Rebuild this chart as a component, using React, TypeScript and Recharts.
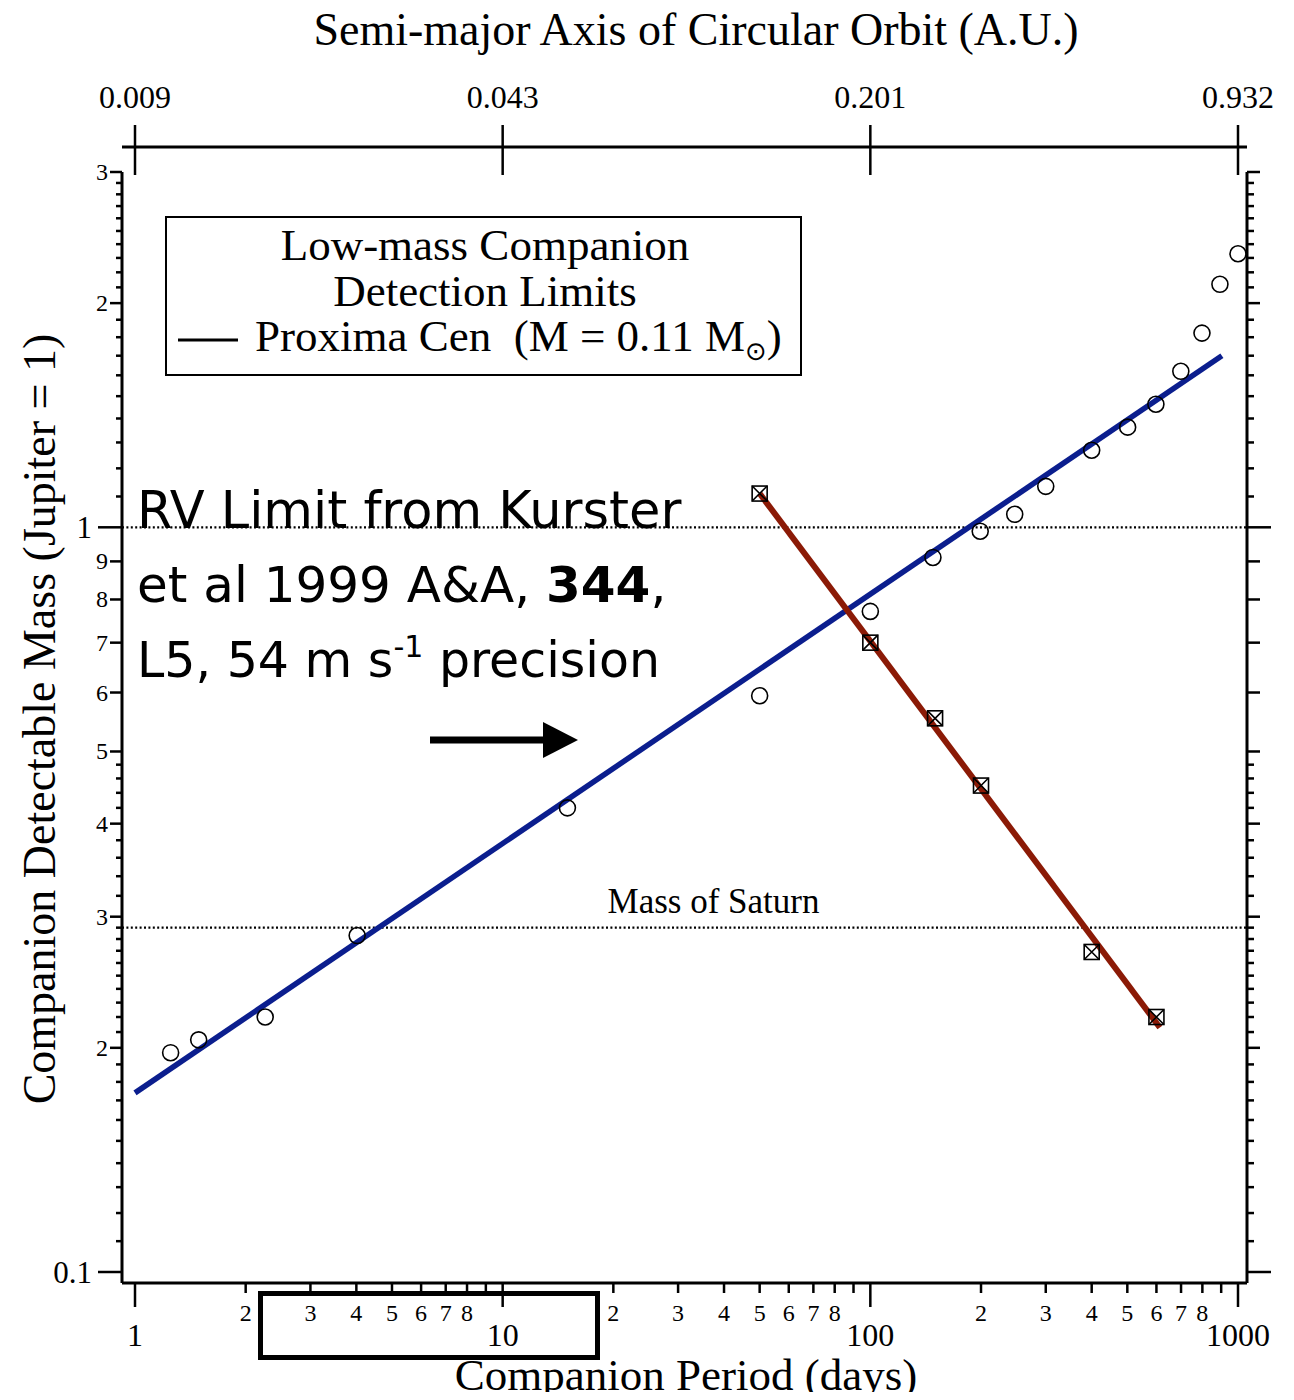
import React from "react";
import { ComposedChart, XAxis, YAxis, Line, Scatter, ReferenceLine } from "recharts";

// open circles: detectable mass vs period
const periods = [1.25, 1.49, 2.26, 4.02, 15.0, 50, 100, 148, 199, 247, 300, 400, 501, 598, 699, 798, 893, 1000];
const masses = [0.197, 0.205, 0.22, 0.283, 0.42, 0.594, 0.771, 0.911, 0.988, 1.041, 1.135, 1.269, 1.363, 1.463, 1.62, 1.823, 2.12, 2.33];

// crossed squares: RV limit (Kurster et al 1999)
const rvPeriods = [50, 100, 150, 200, 400, 600];
const rvMasses = [1.11, 0.7, 0.554, 0.45, 0.269, 0.22];

// fitted lines
const fitPeriods = [1, 904];
const fitMasses = [0.174, 1.7];
const rvFitPeriods = [50, 613];
const rvFitMasses = [1.11, 0.213];

const saturnMass = 0.29;
const jupiterMass = 1;

const xTicks = [1, 2, 3, 4, 5, 6, 7, 8, 9, 10, 20, 30, 40, 50, 60, 70, 80, 90, 100, 200, 300, 400, 500, 600, 700, 800, 900, 1000];
const xMajor = [1, 10, 100, 1000];
const xUnlabeled = [9, 90, 900];

const yTicks = [
  0.1, 0.11, 0.12, 0.13, 0.14, 0.15, 0.16, 0.17, 0.18, 0.19, 0.2, 0.21, 0.22, 0.23, 0.24, 0.25, 0.26, 0.27, 0.28, 0.29, 0.3,
  0.32, 0.34, 0.36, 0.38, 0.4, 0.42, 0.44, 0.46, 0.48, 0.5, 0.6, 0.7, 0.8, 0.9, 1,
  1.1, 1.2, 1.3, 1.4, 1.5, 1.6, 1.7, 1.8, 1.9, 2, 2.1, 2.2, 2.3, 2.4, 2.5, 2.6, 2.7, 2.8, 2.9, 3,
];
const yMajor = [0.1, 1];
const yLabelText: Record<number, string> = {
  0.1: "0.1", 0.2: "2", 0.3: "3", 0.4: "4", 0.5: "5", 0.6: "6", 0.7: "7", 0.8: "8", 0.9: "9", 1: "1", 2: "2", 3: "3",
};

const auTicks = [1, 10, 100, 1000];
const auLabels = ["0.009", "0.043", "0.201", "0.932"];

const circleData = periods.map((p, i) => ({ p, m: masses[i] }));
const rvData = rvPeriods.map((p, i) => ({ p, m: rvMasses[i] }));
const fitData = fitPeriods.map((p, i) => ({ p, m: fitMasses[i] }));
const rvFitData = rvFitPeriods.map((p, i) => ({ p, m: rvFitMasses[i] }));

const serif = "'Liberation Serif', 'Times New Roman', serif";
const comic = "'DejaVu Sans', sans-serif";

function BottomTick(props: any) {
  const { x, y, payload } = props;
  const v = payload.value;
  const major = xMajor.includes(v);
  return (
    <g>
      <line x1={x} x2={x} y1={y} y2={y + (major ? 24 : 10)} stroke="#000" strokeWidth={2.5} />
      {major ? (
        <text x={x} y={y + 52} textAnchor="middle" dominantBaseline="central" fontSize={32} fontFamily={serif} fill="#000">
          {v}
        </text>
      ) : !xUnlabeled.includes(v) ? (
        <text x={x} y={y + 30} textAnchor="middle" dominantBaseline="central" fontSize={24} fontFamily={serif} fill="#000">
          {String(v)[0]}
        </text>
      ) : null}
    </g>
  );
}

function LeftTick(props: any) {
  const { x, y, payload } = props;
  const v = payload.value;
  const big = yMajor.includes(v);
  const label = yLabelText[v];
  const len = big ? 24 : label ? 12 : 6;
  return (
    <g>
      <line x1={x - len} x2={x} y1={y} y2={y} stroke="#000" strokeWidth={2.5} />
      {label && (
        <text x={big ? x - 30 : x - 14} y={y} textAnchor="end" dominantBaseline="central" fontSize={big ? 31 : 24} fontFamily={serif} fill="#000">
          {label}
        </text>
      )}
    </g>
  );
}

function RightTick(props: any) {
  const { x, y, payload } = props;
  const v = payload.value;
  const len = yMajor.includes(v) ? 24 : yLabelText[v] ? 13 : 7;
  return <line x1={x} x2={x + len} y1={y} y2={y} stroke="#000" strokeWidth={2.5} />;
}

function AuTick(props: any) {
  const { x, y, payload, index } = props;
  return (
    <g>
      <line x1={x} x2={x} y1={y - 22} y2={y + 28} stroke="#000" strokeWidth={2.5} />
      <text x={x} y={y - 50} textAnchor="middle" dominantBaseline="central" fontSize={32} fontFamily={serif} fill="#000">
        {auLabels[auTicks.indexOf(payload.value)] ?? auLabels[index]}
      </text>
    </g>
  );
}

const Ring = (props: any) => (
  <circle cx={props.cx} cy={props.cy} r={8} fill="none" stroke="#000" strokeWidth={1.6} />
);

const CrossBox = (props: any) => {
  const { cx, cy } = props;
  return (
    <g stroke="#000" strokeWidth={1.6} fill="none">
      <rect x={cx - 7.5} y={cy - 7.5} width={15} height={15} />
      <path d={`M${cx - 7.5},${cy - 7.5}L${cx + 7.5},${cy + 7.5}M${cx + 7.5},${cy - 7.5}L${cx - 7.5},${cy + 7.5}`} />
    </g>
  );
};

export default function App() {
  return (
    <div style={{ position: "relative", width: 1294, height: 1400, margin: -8, background: "#fff" }}>
      <div style={{ position: "absolute", left: 0, top: 0 }}>
        <ComposedChart width={1294} height={1400} margin={{ top: 172, right: 7, bottom: 57, left: 62 }}>
          <XAxis
            type="number"
            dataKey="p"
            scale="log"
            domain={[1, 1000]}
            ticks={xTicks}
            interval={0}
            tickLine={false}
            tickSize={0}
            tickMargin={0}
            tick={BottomTick}
            padding={{ left: 13, right: 9 }}
            height={60}
            axisLine={{ stroke: "#000", strokeWidth: 3 }}
          />
          <YAxis
            yAxisId="left"
            type="number"
            dataKey="m"
            scale="log"
            domain={[0.1, 3]}
            ticks={yTicks}
            interval={0}
            tickLine={false}
            tickSize={0}
            tickMargin={0}
            tick={LeftTick}
            padding={{ top: 0, bottom: 11 }}
            width={60}
            axisLine={{ stroke: "#000", strokeWidth: 3 }}
          />
          <YAxis
            yAxisId="right"
            orientation="right"
            type="number"
            dataKey="m"
            scale="log"
            domain={[0.1, 3]}
            allowDataOverflow
            ticks={yTicks}
            interval={0}
            tickLine={false}
            tickSize={0}
            tickMargin={0}
            tick={RightTick}
            padding={{ top: 0, bottom: 11 }}
            width={40}
            axisLine={{ stroke: "#000", strokeWidth: 3 }}
          />
          <ReferenceLine yAxisId="left" y={jupiterMass} stroke="#000" strokeWidth={2.2} strokeDasharray="2 2.4" />
          <ReferenceLine
            yAxisId="left"
            y={saturnMass}
            stroke="#000"
            strokeWidth={2.2}
            strokeDasharray="2 2.4"
            label={{ value: "Mass of Saturn", position: "top", dx: 29, offset: 15, fontSize: 35, fontFamily: serif, fill: "#000" }}
          />
          <Scatter yAxisId="left" data={circleData} shape={Ring} isAnimationActive={false} />
          <Scatter yAxisId="left" data={rvData} shape={CrossBox} isAnimationActive={false} />
          <Line yAxisId="left" data={fitData} dataKey="m" type="linear" stroke="#0b1e8e" strokeWidth={5.5} dot={false} isAnimationActive={false} />
          <Line yAxisId="left" data={rvFitData} dataKey="m" type="linear" stroke="#8b1a06" strokeWidth={6} dot={false} isAnimationActive={false} />
        </ComposedChart>
      </div>

      <div style={{ position: "absolute", left: 0, top: 0, pointerEvents: "none" }}>
        <ComposedChart width={1294} height={220} margin={{ top: 47, right: 47, bottom: 20, left: 122 }} data={circleData}>
          <XAxis
            orientation="top"
            type="number"
            dataKey="p"
            scale="log"
            domain={[1, 1000]}
            ticks={auTicks}
            interval={0}
            tickLine={false}
            tickSize={0}
            tickMargin={0}
            tick={AuTick}
            padding={{ left: 13, right: 9 }}
            height={100}
            axisLine={{ stroke: "#000", strokeWidth: 3 }}
          />
          <YAxis hide type="number" dataKey="m" />
        </ComposedChart>
      </div>

      <svg width={1294} height={1400} style={{ position: "absolute", left: 0, top: 0, pointerEvents: "none" }}>
        <text x={696} y={45} textAnchor="middle" fontSize={46} fontFamily={serif} fill="#000">
          Semi-major Axis of Circular Orbit (A.U.)
        </text>
        <text x={686} y={1390} textAnchor="middle" fontSize={45} fontFamily={serif} fill="#000">
          Companion Period (days)
        </text>
        <text transform="translate(55,719) rotate(-90)" textAnchor="middle" fontSize={46} fontFamily={serif} fill="#000">
          Companion Detectable Mass (Jupiter = 1)
        </text>

        <rect x={166} y={217} width={635} height={158} fill="#fff" stroke="#000" strokeWidth={2} />
        <text x={485} y={260} textAnchor="middle" fontSize={45} fontFamily={serif} fill="#000">Low-mass Companion</text>
        <text x={485} y={306} textAnchor="middle" fontSize={45} fontFamily={serif} fill="#000">Detection Limits</text>
        <line x1={178} x2={238} y1={340} y2={340} stroke="#000" strokeWidth={3} />
        <text x={255} y={351} fontSize={45} fontFamily={serif} fill="#000">
          {"Proxima Cen\u00a0\u00a0(M = 0.11 M"}
          <tspan fontSize={26} dy={9} fontFamily="'DejaVu Sans', sans-serif">⊙</tspan>
          <tspan dy={-9}>)</tspan>
        </text>

        <text x={137} y={528} fontSize={51} fontFamily={comic} fill="#000">RV Limit from Kurster</text>
        <text x={137} y={602} fontSize={50} fontFamily={comic} fill="#000">
          {"et al 1999 A&A, "}
          <tspan fontWeight="bold">344</tspan>
          {","}
        </text>
        <text x={137} y={677} fontSize={49} fontFamily={comic} fill="#000">
          {"L5, 54 m s"}
          <tspan fontSize={30} dy={-20}>-1</tspan>
          <tspan dy={20}>{" precision"}</tspan>
        </text>

        <line x1={430} x2={546} y1={740} y2={740} stroke="#000" strokeWidth={7} />
        <polygon points="543,722 578,740 543,758" fill="#000" />

        <rect x={260.5} y={1293.5} width={337} height={64} fill="none" stroke="#000" strokeWidth={5} />
      </svg>
    </div>
  );
}
